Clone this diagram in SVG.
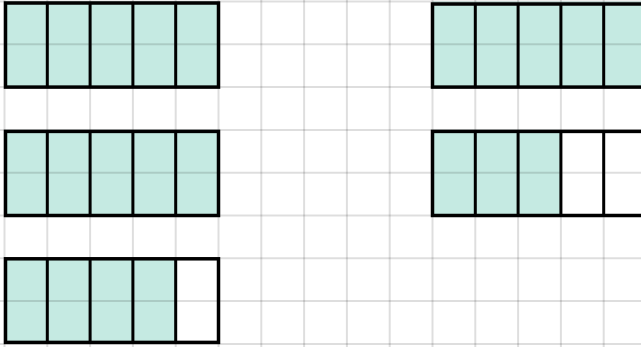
<svg xmlns="http://www.w3.org/2000/svg" width="641" height="347" viewBox="0 0 641 347">
<style>
.f{fill:#c5eae2;stroke:none}
.grid line{stroke:#000;stroke-opacity:0.13;stroke-width:2}
.b{fill:none;stroke:#000;stroke-width:3.5}
.d{stroke:#000;stroke-width:3}
</style>
<rect width="641" height="347" fill="#fff"/>
<g id="bar-top-left">
<rect class="f" x="4.5" y="1.5" width="214" height="85.6"/>
</g>
<g id="bar-mid-left">
<rect class="f" x="4.5" y="129.9" width="214" height="85.6"/>
</g>
<g id="bar-bottom-left">
<rect class="f" x="4.5" y="258.3" width="171.2" height="85.6"/>
</g>
<g id="bar-top-right">
<rect class="f" x="432.5" y="1.5" width="214" height="85.6"/>
</g>
<g id="bar-mid-right">
<rect class="f" x="432.5" y="129.9" width="128.4" height="85.6"/>
</g>
<g class="grid" id="grid">
<line x1="4.5" y1="0" x2="4.5" y2="347"/>
<line x1="47.3" y1="0" x2="47.3" y2="347"/>
<line x1="90.1" y1="0" x2="90.1" y2="347"/>
<line x1="132.9" y1="0" x2="132.9" y2="347"/>
<line x1="175.7" y1="0" x2="175.7" y2="347"/>
<line x1="218.5" y1="0" x2="218.5" y2="347"/>
<line x1="261.3" y1="0" x2="261.3" y2="347"/>
<line x1="304.1" y1="0" x2="304.1" y2="347"/>
<line x1="346.9" y1="0" x2="346.9" y2="347"/>
<line x1="389.7" y1="0" x2="389.7" y2="347"/>
<line x1="432.5" y1="0" x2="432.5" y2="347"/>
<line x1="475.3" y1="0" x2="475.3" y2="347"/>
<line x1="518.1" y1="0" x2="518.1" y2="347"/>
<line x1="560.9" y1="0" x2="560.9" y2="347"/>
<line x1="603.7" y1="0" x2="603.7" y2="347"/>
<line x1="0" y1="1.5" x2="641" y2="1.5"/>
<line x1="0" y1="44.3" x2="641" y2="44.3"/>
<line x1="0" y1="87.1" x2="641" y2="87.1"/>
<line x1="0" y1="129.9" x2="641" y2="129.9"/>
<line x1="0" y1="172.7" x2="641" y2="172.7"/>
<line x1="0" y1="215.5" x2="641" y2="215.5"/>
<line x1="0" y1="258.3" x2="641" y2="258.3"/>
<line x1="0" y1="301.1" x2="641" y2="301.1"/>
<line x1="0" y1="343.9" x2="641" y2="343.9"/>
</g>
<g id="outlines">
<rect class="b" x="5.5" y="3" width="213" height="84.1"/>
<line class="d" x1="47.3" y1="3" x2="47.3" y2="87"/>
<line class="d" x1="90.1" y1="3" x2="90.1" y2="87"/>
<line class="d" x1="132.9" y1="3" x2="132.9" y2="87"/>
<line class="d" x1="175.7" y1="3" x2="175.7" y2="87"/>
<rect class="b" x="5.5" y="131.4" width="213" height="84.1"/>
<line class="d" x1="47.3" y1="131" x2="47.3" y2="215"/>
<line class="d" x1="90.1" y1="131" x2="90.1" y2="215"/>
<line class="d" x1="132.9" y1="131" x2="132.9" y2="215"/>
<line class="d" x1="175.7" y1="131" x2="175.7" y2="215"/>
<rect class="b" x="5.5" y="258.8" width="213" height="83.6"/>
<line class="d" x1="47.3" y1="259" x2="47.3" y2="342"/>
<line class="d" x1="90.1" y1="259" x2="90.1" y2="342"/>
<line class="d" x1="132.9" y1="259" x2="132.9" y2="342"/>
<line class="d" x1="175.7" y1="259" x2="175.7" y2="342"/>
<rect class="b" x="432.5" y="4" width="215" height="83.1"/>
<line class="d" x1="475.3" y1="4" x2="475.3" y2="87"/>
<line class="d" x1="518.1" y1="4" x2="518.1" y2="87"/>
<line class="d" x1="560.9" y1="4" x2="560.9" y2="87"/>
<line class="d" x1="603.7" y1="4" x2="603.7" y2="87"/>
<rect class="b" x="432.5" y="131.4" width="215" height="84.1"/>
<line class="d" x1="475.3" y1="131" x2="475.3" y2="215"/>
<line class="d" x1="518.1" y1="131" x2="518.1" y2="215"/>
<line class="d" x1="560.9" y1="131" x2="560.9" y2="215"/>
<line class="d" x1="603.7" y1="131" x2="603.7" y2="215"/>
</g>
</svg>
